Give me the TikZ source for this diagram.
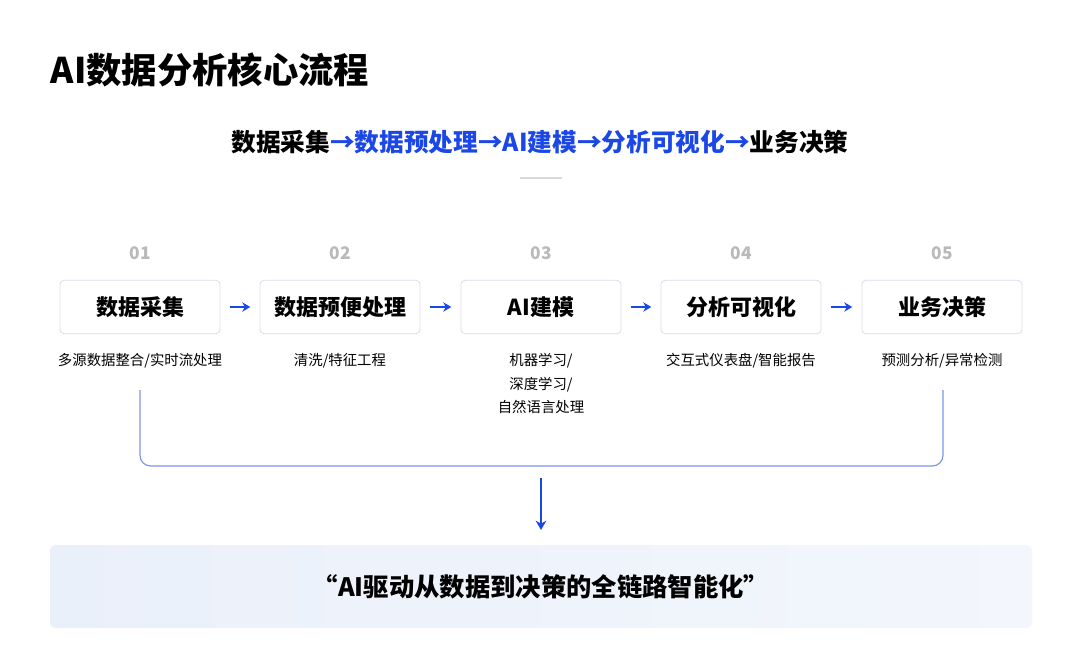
\documentclass[tikz,border=0pt]{standalone}
\usepackage{fontspec}
\setmainfont{Noto Sans CJK SC}
\usetikzlibrary{arrows.meta}
\definecolor{blu}{HTML}{1A47E6}
\definecolor{brd}{HTML}{D8DEEA}
\definecolor{line}{HTML}{7A98E8}
\definecolor{bana}{HTML}{EAF0FA}
\definecolor{banb}{HTML}{F3F6FC}
\begin{document}
\begin{tikzpicture}[x=0.75pt,y=-0.75pt,
  stepbox/.style={draw=brd,line width=0.6pt,rounded corners=3pt,fill=white,minimum width=120pt,minimum height=40pt,font=\fontsize{16.5}{20}\selectfont\bfseries},
  num/.style={text=gray!55,font=\fontsize{13}{15}\selectfont\bfseries},
  desc/.style={font=\fontsize{10.8}{17.5}\selectfont,align=center,anchor=north},
  arr/.style={-{Stealth[length=6pt,width=7pt]},blu,line width=1.8pt}]
\fill[white] (0,0) rectangle (1075,669);
\useasboundingbox (0,0) rectangle (1075,669);
\node[anchor=west,font=\fontsize{26.5}{30}\selectfont\bfseries] (title) at (46,70) {AI数据分析核心流程};
\node[font=\fontsize{18.5}{22}\selectfont\bfseries] (sub) at (540,142) {数据采集\textcolor{blu}{→数据预处理→AI建模→分析可视化→}业务决策};
\draw[gray!30,line width=1pt] (520,178) -- (562,178);
\foreach \i/\x/\t in {1/140/数据采集,2/340/数据预便处理,3/541/AI建模,4/741/分析可视化,5/942/业务决策}{
  \node[num] (n\i) at (\x,253) {0\i};
  \node[stepbox] (b\i) at (\x,307) {\t};
}
\foreach \a/\b in {1/2,2/3,3/4,4/5}{
  \draw[arr] ([xshift=7pt]b\a.east) -- ([xshift=-7pt]b\b.west);
}
\node[desc] (d1) at (140,349) {多源数据整合/实时流处理};
\node[desc] (d2) at (340,349) {清洗/特征工程};
\node[desc] (d3) at (541,349) {机器学习/\\深度学习/\\自然语言处理};
\node[desc] (d4) at (741,349) {交互式仪表盘/智能报告};
\node[desc] (d5) at (942,349) {预测分析/异常检测};
\coordinate (l) at (140,390);
\coordinate (r) at (943,390);
\draw[line,line width=0.9pt,rounded corners=8pt] (l) -- (140,466) -- (943,466) -- (r);
\coordinate (at) at (541,478);
\coordinate (ab) at (541,530);
\draw[-{Stealth[length=7pt,width=8pt]},blu,line width=1.2pt] (at) -- (ab);
\shade[left color=bana,right color=banb,rounded corners=4pt] (50,545) rectangle (1032,628);
\node[font=\fontsize{19}{22}\selectfont\bfseries] (q) at (541,587) {“AI驱动从数据到决策的全链路智能化”};
\end{tikzpicture}
\end{document}
